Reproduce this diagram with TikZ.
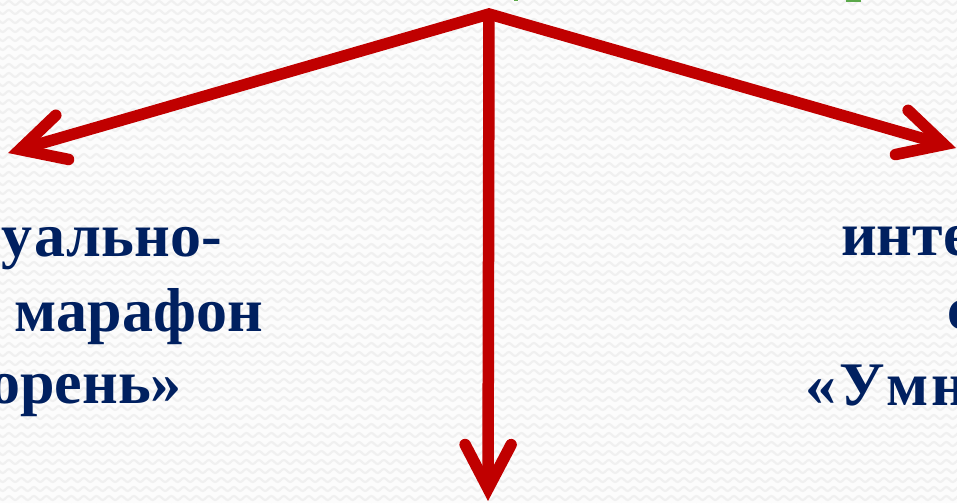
\documentclass[tikz,border=0pt]{standalone}
\usepackage{fontspec}
\setmainfont{Liberation Serif}
\usetikzlibrary{arrows.meta,decorations.pathmorphing}
\definecolor{navy}{HTML}{002060}
\definecolor{arrred}{HTML}{C00000}
\definecolor{grn}{HTML}{5BA84A}
\definecolor{wavegray}{HTML}{F0F0F0}
\definecolor{bggray}{HTML}{FCFCFC}
\tikzset{
  barb/.tip={Straight Barb[length=44pt,width=46pt,line cap=round,line join=miter]},
  redarrow/.style={draw=arrred,line width=11.5pt,line join=miter},
  lbl/.style={text=navy,font=\fontsize{62}{74}\selectfont\bfseries,inner sep=0pt},
  bgwave/.style={draw=wavegray,line width=2.2pt,decorate,decoration={snake,segment length=12.5pt,amplitude=2pt}}
}
\begin{document}
\begin{tikzpicture}[x=1pt,y=-1pt]
\useasboundingbox (0,0) rectangle (957,503);
\clip (0,0) rectangle (957,503);
\fill[bggray] (0,0) rectangle (957,503);
\foreach \yy in {3,12,...,507} \draw[bgwave] (-20,\yy) -- (980,\yy);
% cut-off green text fragments at the top edge
\fill[grn] (514,0) rectangle (518,1.2);
\fill[grn] (846,0) rectangle (861,2);
% arrows
\coordinate (apex) at (489,14);
\coordinate (tipL) at (8,153);
\coordinate (tipR) at (956,148);
\coordinate (tipD) at (488,501);
\draw[redarrow,{barb}-{barb}] (tipL) -- (apex) -- (tipR);
\draw[redarrow,-{barb}] (apex) -- (tipD);
% left text (cut by the left edge)
\node[lbl,anchor=base east] (l1) at (222,256) {у\kern2pt а\kern1pt льно-};
\node[lbl,anchor=base east] (l2) at (263,331) {марафон};
\node[lbl,anchor=base east] (l3) at (182,403) {орень»};
% right text (cut by the right edge)
\node[lbl,anchor=base west] (r1) at (841,255) {инте};
\node[lbl,anchor=base west] (r2) at (947,329) {с};
\node[lbl,anchor=base west] (r3) at (805,405) {«\kern3ptУ\kern2ptм\kern3ptн};
\end{tikzpicture}
\end{document}
